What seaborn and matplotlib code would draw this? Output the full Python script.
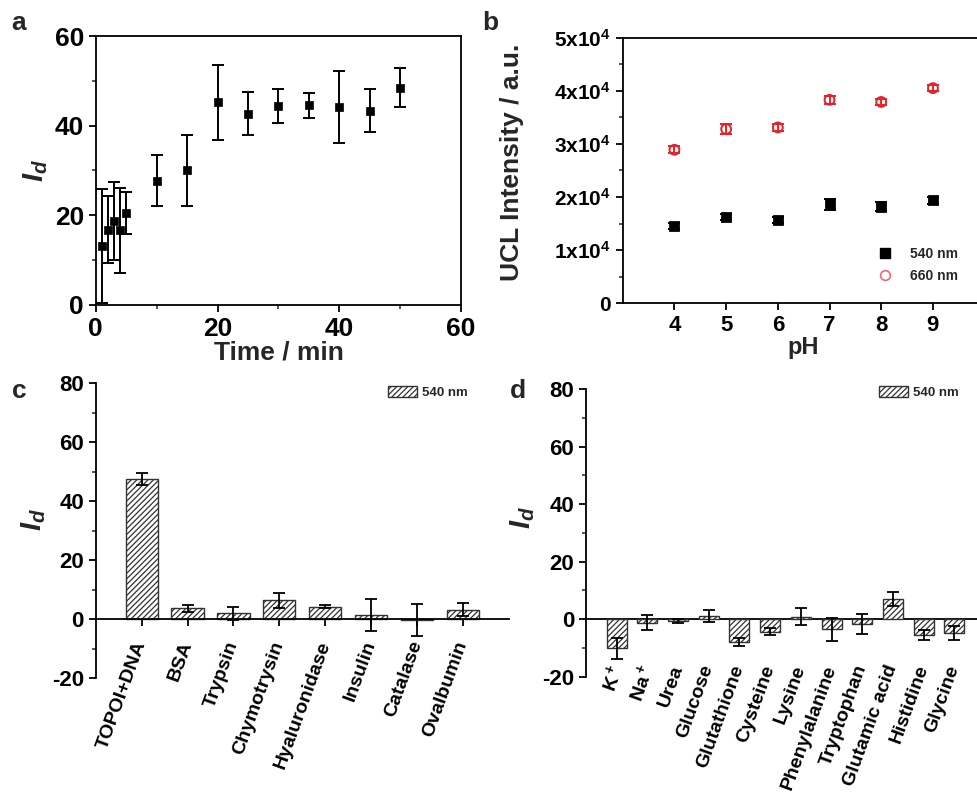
import numpy as np
import pandas as pd
import matplotlib
matplotlib.use('Agg')
import matplotlib.pyplot as plt
from matplotlib.patches import Patch
from matplotlib.lines import Line2D
from matplotlib.ticker import MultipleLocator
import seaborn as sns

# a: I_d vs tempo
time_min = [1, 2, 3, 4, 5, 10, 15, 20, 25, 30, 35, 40, 45, 50]
id_time = [13.2, 16.8, 18.8, 16.7, 20.6, 27.7, 30.0, 45.2, 42.7, 44.4, 44.5, 44.2, 43.3, 48.5]
id_time_err = [12.7, 7.5, 8.7, 9.5, 4.7, 5.7, 8.0, 8.4, 4.7, 3.7, 2.7, 8.0, 4.8, 4.4]

# b: intensidade UCL vs pH
ph = [4, 5, 6, 7, 8, 9]
ucl_540 = [1.46e4, 1.62e4, 1.57e4, 1.86e4, 1.82e4, 1.94e4]
ucl_540_err = [0.06e4, 0.06e4, 0.06e4, 0.10e4, 0.08e4, 0.07e4]
ucl_660 = [2.89e4, 3.28e4, 3.31e4, 3.83e4, 3.79e4, 4.05e4]
ucl_660_err = [0.07e4, 0.10e4, 0.06e4, 0.08e4, 0.06e4, 0.06e4]

# c: proteinas
proteins = ['TOPOI+DNA', 'BSA', 'Trypsin', 'Chymotrysin', 'Hyaluronidase', 'Insulin', 'Catalase', 'Ovalbumin']
id_prot = [47.5, 3.7, 2.1, 6.4, 4.3, 1.6, -0.3, 3.3]
id_prot_err = [2.0, 1.3, 2.2, 2.6, 0.6, 5.4, 5.5, 2.1]

# d: ions e pequenas moleculas
molecules = ['K$^+$', 'Na$^+$', 'Urea', 'Glucose', 'Glutathione', 'Cysteine', 'Lysine',
             'Phenylalanine', 'Tryptophan', 'Glutamic acid', 'Histidine', 'Glycine']
id_mol = [-10.2, -1.3, -0.5, 1.0, -7.9, -4.4, 0.8, -3.6, -1.7, 7.0, -5.6, -4.8]
id_mol_err = [3.8, 2.6, 0.7, 2.0, 1.3, 1.2, 2.9, 3.9, 3.6, 2.5, 1.7, 2.3]

sns.set_style('ticks')
plt.rcParams['font.family'] = ['Liberation Sans', 'DejaVu Sans']
plt.rcParams['font.weight'] = 'bold'
plt.rcParams['axes.labelweight'] = 'bold'
plt.rcParams['axes.unicode_minus'] = False
plt.rcParams['mathtext.fontset'] = 'custom'
plt.rcParams['mathtext.rm'] = 'Liberation Sans:weight=bold'
plt.rcParams['mathtext.bf'] = 'Liberation Sans:weight=bold'
plt.rcParams['mathtext.it'] = 'Liberation Sans:style=italic:weight=bold'
plt.rcParams['hatch.linewidth'] = 0.9
plt.rcParams['axes.linewidth'] = 1.3

fig = plt.figure(figsize=(9.77, 7.93), dpi=100)


def style_ticks(ax, size):
    ax.tick_params(which='major', direction='out', length=5, width=1.3, labelsize=size, colors='black')
    ax.tick_params(which='minor', direction='out', length=3, width=1.1)
    for s in ax.spines.values():
        s.set_color('black')


# ---- a ----
ax_a = fig.add_axes([0.098, 0.6154, 0.374, 0.3392])
sns.scatterplot(x=time_min, y=id_time, marker='s', color='black', s=38, edgecolor='black', ax=ax_a, zorder=3)
ax_a.errorbar(time_min, id_time, yerr=id_time_err, fmt='none', ecolor='black', elinewidth=1.4, capsize=4, capthick=1.4)
ax_a.set_xlim(0, 60)
ax_a.set_ylim(0, 60)
ax_a.xaxis.set_major_locator(MultipleLocator(20))
ax_a.yaxis.set_major_locator(MultipleLocator(20))
ax_a.xaxis.set_minor_locator(MultipleLocator(10))
ax_a.yaxis.set_minor_locator(MultipleLocator(10))
style_ticks(ax_a, 19)
ax_a.set_xlabel('Time / min', fontsize=19, labelpad=0)
ax_a.set_ylabel(r'$\mathit{I}_{\mathit{d}}$', fontsize=21)
ax_a.yaxis.set_label_coords(-0.125, 0.5)

# ---- b ----
ax_b = fig.add_axes([0.6374, 0.6175, 0.3704, 0.3350])
sns.scatterplot(x=ph, y=ucl_540, marker='s', color='black', s=50, edgecolor='black', ax=ax_b, zorder=3)
ax_b.errorbar(ph, ucl_540, yerr=ucl_540_err, fmt='none', ecolor='black', elinewidth=1.4, capsize=4, capthick=1.4)
sns.scatterplot(x=ph, y=ucl_660, marker='o', s=50, ax=ax_b, zorder=3)
ax_b.collections[-1].set_facecolor('none')
ax_b.collections[-1].set_edgecolor('#e8202a')
ax_b.collections[-1].set_linewidth(1.4)
ax_b.errorbar(ph, ucl_660, yerr=ucl_660_err, fmt='none', ecolor='#e8202a', elinewidth=1.4, capsize=4, capthick=1.4)
ax_b.set_xlim(3, 10)
ax_b.set_ylim(0, 5e4)
ax_b.set_xticks(ph)
ax_b.set_yticks([0, 1e4, 2e4, 3e4, 4e4, 5e4])
ax_b.set_yticklabels(['0'] + ['%dx10$^{4}$' % k for k in range(1, 6)])
ax_b.yaxis.set_minor_locator(MultipleLocator(0.5e4))
style_ticks(ax_b, 15)
ax_b.tick_params(axis='x', labelsize=16)
ax_b.set_xlabel('pH', fontsize=17, labelpad=0)
ax_b.set_ylabel('UCL Intensity / a.u.', fontsize=19)
ax_b.yaxis.set_label_coords(-0.272, 0.532)
handles_b = [Line2D([], [], marker='s', color='black', linestyle='none', markersize=7, label='540 nm'),
             Line2D([], [], marker='o', mfc='none', mec='#ee6677', mew=1.2, linestyle='none', markersize=7, label='660 nm')]
ax_b.legend(handles=handles_b, loc='lower right', bbox_to_anchor=(0.962, 0.03), frameon=False,
            prop={'size': 10, 'weight': 'bold'}, handletextpad=0.8, labelspacing=0.6)

# ---- c ----
ax_c = fig.add_axes([0.098, 0.1446, 0.4228, 0.3719])
df_c = pd.DataFrame({'sample': proteins, 'Id': id_prot})
sns.barplot(data=df_c, x='sample', y='Id', color='white', edgecolor='#333333', linewidth=1.0,
            width=0.7, errorbar=None, ax=ax_c)
for p in ax_c.patches:
    p.set_hatch('//////')
ax_c.errorbar(range(len(proteins)), id_prot, yerr=id_prot_err, fmt='none', ecolor='black',
              elinewidth=1.3, capsize=4, capthick=1.3)
ax_c.set_xlim(-1, 8)
ax_c.set_ylim(-20, 80)
ax_c.yaxis.set_major_locator(MultipleLocator(20))
ax_c.yaxis.set_minor_locator(MultipleLocator(10))
ax_c.spines['top'].set_visible(False)
ax_c.spines['right'].set_visible(False)
ax_c.spines['bottom'].set_position(('data', 0))
style_ticks(ax_c, 16)
ax_c.tick_params(axis='x', labelsize=14, pad=11)
plt.setp(ax_c.get_xticklabels(), rotation=70, ha='right', va='center', rotation_mode='anchor')
ax_c.set_xlabel('')
ax_c.set_ylabel(r'$\mathit{I}_{\mathit{d}}$', fontsize=21)
ax_c.yaxis.set_label_coords(-0.115, 0.537)
ax_c.legend(handles=[Patch(facecolor='white', edgecolor='#333333', hatch='//////', label='540 nm')],
            loc='upper right', bbox_to_anchor=(0.93, 1.03), frameon=False,
            prop={'size': 9.5, 'weight': 'bold'}, handlelength=2.2, handleheight=0.8, handletextpad=0.4)

# ---- d ----
ax_d = fig.add_axes([0.5998, 0.1467, 0.4084, 0.3628])
df_d = pd.DataFrame({'sample': molecules, 'Id': id_mol})
sns.barplot(data=df_d, x='sample', y='Id', color='white', edgecolor='#333333', linewidth=1.0,
            width=0.65, errorbar=None, ax=ax_d)
for p in ax_d.patches:
    p.set_hatch('//////')
ax_d.errorbar(range(len(molecules)), id_mol, yerr=id_mol_err, fmt='none', ecolor='black',
              elinewidth=1.3, capsize=4, capthick=1.3)
ax_d.set_xlim(-1, 12)
ax_d.set_ylim(-20, 80)
ax_d.yaxis.set_major_locator(MultipleLocator(20))
ax_d.yaxis.set_minor_locator(MultipleLocator(10))
ax_d.spines['top'].set_visible(False)
ax_d.spines['right'].set_visible(False)
ax_d.spines['bottom'].set_visible(False)
ax_d.axhline(0, color='black', linewidth=1.3, zorder=0.5)
style_ticks(ax_d, 16)
ax_d.tick_params(axis='x', labelsize=14, length=0, pad=-8)
plt.setp(ax_d.get_xticklabels(), rotation=70, ha='right', va='center', rotation_mode='anchor')
ax_d.set_xlabel('')
ax_d.set_ylabel(r'$\mathit{I}_{\mathit{d}}$', fontsize=21)
ax_d.yaxis.set_label_coords(-0.123, 0.552)
ax_d.legend(handles=[Patch(facecolor='white', edgecolor='#333333', hatch='//////', label='540 nm')],
            loc='upper right', bbox_to_anchor=(0.965, 1.05), frameon=False,
            prop={'size': 9.5, 'weight': 'bold'}, handlelength=2.2, handleheight=0.8, handletextpad=0.4)

# letras dos paineis
for lbl, x, y in [('a', 0.012, 0.962), ('b', 0.494, 0.962), ('c', 0.012, 0.498), ('d', 0.522, 0.498)]:
    fig.text(x, y, lbl, fontsize=19, fontweight='bold')

fig.savefig('out.png', dpi=100)
